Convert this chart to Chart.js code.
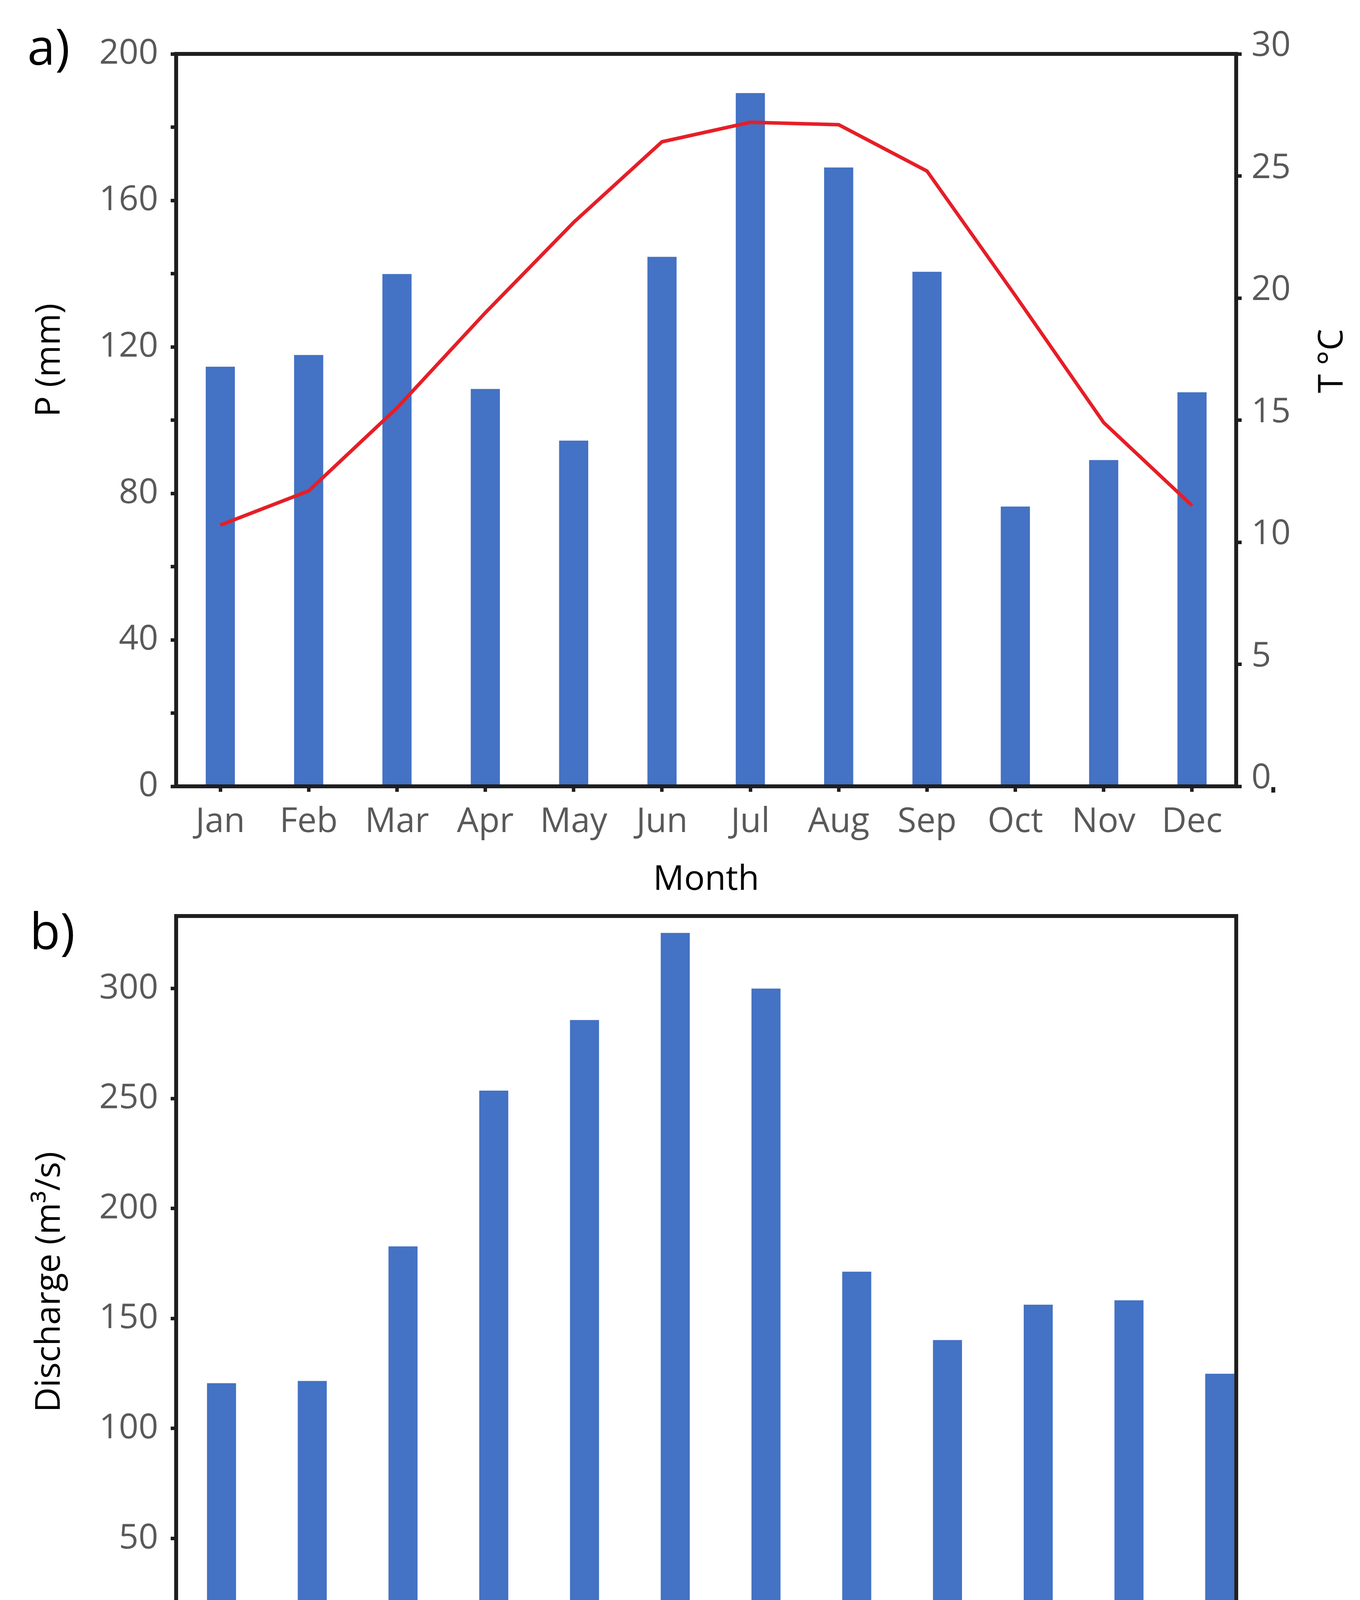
<!DOCTYPE html>
<html>
<head>
<meta charset="utf-8">
<title>Precipitation, temperature and discharge</title>
<script src="https://cdn.jsdelivr.net/npm/chart.js@4.4.1/dist/chart.umd.min.js"></script>
<style>
  html, body { margin: 0; padding: 0; background: #fff; }
  body { width: 3482px; height: 4498px; position: relative; overflow: hidden; }
  canvas { position: absolute; left: 0; }
  #top { top: 0; }
  #bottom { top: 2240px; }
</style>
</head>
<body>
<canvas id="top" width="3482" height="2290"></canvas>
<canvas id="bottom" width="3482" height="2258"></canvas>
<script>
// --- data ---
const months = ['Jan', 'Feb', 'Mar', 'Apr', 'May', 'Jun', 'Jul', 'Aug', 'Sep', 'Oct', 'Nov', 'Dec'];
const precipitation = [114.6, 117.8, 139.9, 108.5, 94.4, 144.6, 189.3, 169.0, 140.5, 76.4, 89.1, 107.6]; // mm
const temperature = [10.7, 12.1, 15.5, 19.4, 23.1, 26.4, 27.2, 27.1, 25.2, 20.1, 14.9, 11.5];           // °C

const hydroMonths = ['Oct', 'Nov', 'Dec', 'Jan', 'Feb', 'Mar', 'Apr', 'May', 'Jun', 'Jul', 'Aug', 'Sep'];
const discharge = [120.6, 121.6, 182.8, 253.6, 285.7, 325.3, 300.0, 171.3, 140.2, 156.3, 158.3, 124.9]; // m3/s

// tick values (precipitation axis has an unlabelled tick between labels)
const precipTicks = [0, 20, 40, 60, 80, 100, 120, 140, 160, 180, 200];
const precipLabelled = [0, 40, 80, 120, 160, 200];
const tempTicks = [0, 5, 10, 15, 20, 25, 30];
const dischargeTicks = [0, 50, 100, 150, 200, 250, 300];

// --- styling ---
const FONT = '"Open Sans", "Noto Sans", "DejaVu Sans", sans-serif';
const AXIS = '#1f1f1f';
const TICK_TEXT = '#595959';
const BAR_BLUE = '#4472C4';
const LINE_RED = '#E61E27';

Chart.defaults.font.family = FONT;

// frame, stray end tick, axis titles and panel letter
const decor = {
  id: 'decor',
  afterDatasetsDraw(chart, args, opts) {
    const { ctx, chartArea: a } = chart;
    const w = a.right - a.left;
    const frameRight = a.left + w * opts.frameFrac;

    ctx.save();
    ctx.strokeStyle = AXIS;
    ctx.lineWidth = 10;
    ctx.lineJoin = 'miter';
    ctx.beginPath();
    ctx.rect(a.left, a.top, frameRight - a.left, a.bottom - a.top);
    ctx.stroke();

    // little tick left over at the end of the category axis
    ctx.fillStyle = AXIS;
    ctx.fillRect(a.left + w * opts.dotFrac - 5, a.bottom + 2, 10, 14);

    ctx.fillStyle = '#000';
    ctx.font = `88px ${FONT}`;
    ctx.textAlign = 'center';
    ctx.textBaseline = 'middle';
    ctx.fillText(opts.xTitle, (a.left + frameRight) / 2, a.bottom + 240);

    for (const t of opts.yTitles) {
      ctx.save();
      ctx.translate(t.x, t.y);
      ctx.rotate(-Math.PI / 2);
      ctx.fillText(t.text, 0, 0);
      ctx.restore();
    }

    ctx.font = `128px ${FONT}`;
    ctx.textAlign = 'left';
    ctx.textBaseline = 'alphabetic';
    ctx.fillText(opts.letter.text, opts.letter.x, opts.letter.y);
    ctx.restore();
  }
};

const tickGrid = {
  drawOnChartArea: false,
  drawTicks: true,
  tickLength: 14,
  tickWidth: 9,
  tickColor: AXIS,
  offset: false
};
const tickFont = { size: 88, family: FONT };

// ---------- a) precipitation + temperature ----------
new Chart(document.getElementById('top'), {
  type: 'bar',
  data: {
    labels: months,
    datasets: [
      {
        type: 'line',
        label: 'T',
        data: temperature,
        yAxisID: 'y1',
        borderColor: LINE_RED,
        borderWidth: 9,
        pointRadius: 0,
        tension: 0,
        order: 0
      },
      {
        label: 'P',
        data: precipitation,
        yAxisID: 'y',
        backgroundColor: BAR_BLUE,
        barPercentage: 0.33,
        categoryPercentage: 1,
        order: 1
      }
    ]
  },
  options: {
    responsive: false,
    animation: false,
    devicePixelRatio: 1,
    layout: { padding: { left: 0, right: 0, top: 138, bottom: 0 } },
    plugins: {
      legend: { display: false },
      tooltip: { enabled: false },
      decor: {
        frameFrac: 1,
        dotFrac: 1.035,
        xTitle: 'Month',
        yTitles: [
          { text: 'P (mm)', x: 128, y: 922 },
          { text: 'T °C', x: 3412, y: 924 }
        ],
        letter: { text: 'a)', x: 70, y: 166 }
      }
    },
    scales: {
      x: {
        grid: tickGrid,
        border: { display: false },
        ticks: { font: tickFont, color: TICK_TEXT, padding: 25, maxRotation: 0, autoSkip: false },
        afterFit: s => { s.height = 277; }
      },
      y: {
        position: 'left',
        min: 0,
        max: 200,
        grid: tickGrid,
        border: { display: false },
        afterBuildTicks: s => { s.ticks = precipTicks.map(v => ({ value: v })); },
        ticks: {
          font: tickFont,
          color: TICK_TEXT,
          padding: 32,
          callback: v => (precipLabelled.includes(v) ? String(v) : '')
        },
        afterFit: s => { s.width = 451; }
      },
      y1: {
        position: 'right',
        min: 0,
        max: 30,
        grid: tickGrid,
        border: { display: false },
        afterBuildTicks: s => { s.ticks = tempTicks.map(v => ({ value: v })); },
        ticks: { font: tickFont, color: TICK_TEXT, padding: 25, labelOffset: -20 },
        afterFit: s => { s.width = 317; }
      }
    }
  },
  plugins: [decor]
});

// ---------- b) discharge ----------
new Chart(document.getElementById('bottom'), {
  type: 'bar',
  data: {
    labels: hydroMonths,
    datasets: [
      {
        label: 'Discharge',
        data: discharge,
        backgroundColor: BAR_BLUE,
        barPercentage: 0.32,
        categoryPercentage: 1
      }
    ]
  },
  options: {
    responsive: false,
    animation: false,
    devicePixelRatio: 1,
    layout: { padding: { left: 0, right: 243, top: 105, bottom: 0 } },
    plugins: {
      legend: { display: false },
      tooltip: { enabled: false },
      decor: {
        frameFrac: 0.9735,
        dotFrac: 1.0136,
        xTitle: 'Month',
        yTitles: [
          { text: 'Discharge (m³/s)', x: 128, y: 1042 }
        ],
        letter: { text: 'b)', x: 76, y: 190 }
      }
    },
    scales: {
      x: {
        grid: tickGrid,
        border: { display: false },
        ticks: { font: tickFont, color: TICK_TEXT, padding: 25, maxRotation: 0, autoSkip: false },
        afterFit: s => { s.height = 278; }
      },
      y: {
        min: 0,
        max: 333,
        grid: tickGrid,
        border: { display: false },
        afterBuildTicks: s => { s.ticks = dischargeTicks.map(v => ({ value: v })); },
        ticks: { font: tickFont, color: TICK_TEXT, padding: 32 },
        afterFit: s => { s.width = 451; }
      }
    }
  },
  plugins: [decor]
});
</script>
</body>
</html>
